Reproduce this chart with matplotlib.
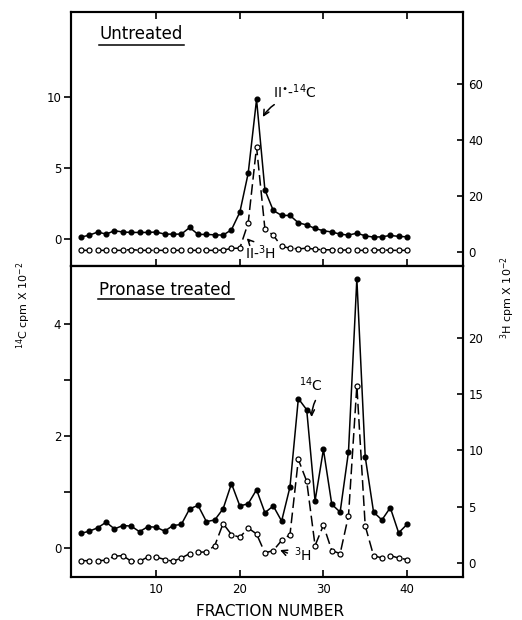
import matplotlib
matplotlib.use("Agg")
import matplotlib.pyplot as plt
import numpy as np

plt.rcParams['font.family'] = ['DejaVu Sans']
plt.rcParams['mathtext.fontset'] = 'dejavusans'

fractions = np.arange(1, 41)

# Untreated: 14C (cpm x 10^-2, left axis) and 3H (cpm x 10^-2, right axis)
untreated_c14 = [0.14, 0.28, 0.50, 0.35, 0.59, 0.50, 0.47, 0.47, 0.47, 0.50,
                 0.35, 0.35, 0.35, 0.82, 0.33, 0.33, 0.30, 0.28, 0.66, 1.90,
                 4.65, 9.86, 3.47, 2.02, 1.67, 1.67, 1.15, 1.00, 0.75, 0.59,
                 0.50, 0.35, 0.28, 0.42, 0.23, 0.14, 0.16, 0.26, 0.19, 0.16]
untreated_h3 = [0.6, 0.6, 0.6, 0.6, 0.6, 0.6, 0.9, 0.6, 0.6, 0.6,
                0.6, 0.6, 0.6, 0.6, 0.6, 0.6, 0.6, 0.7, 1.3, 1.4,
                10.4, 37.6, 8.3, 6.0, 2.0, 1.4, 1.1, 1.4, 1.0, 0.8,
                0.8, 0.6, 0.8, 0.6, 0.6, 0.6, 0.8, 0.6, 0.6, 0.6]

# Pronase treated
pronase_c14 = [0.26, 0.30, 0.36, 0.46, 0.34, 0.40, 0.39, 0.29, 0.38, 0.37,
               0.30, 0.40, 0.42, 0.70, 0.76, 0.47, 0.50, 0.70, 1.15, 0.75,
               0.79, 1.04, 0.63, 0.75, 0.48, 1.09, 2.67, 2.47, 0.84, 1.76,
               0.78, 0.64, 1.72, 4.81, 1.63, 0.64, 0.50, 0.72, 0.27, 0.42]
pronase_h3 = [0.20, 0.20, 0.20, 0.24, 0.60, 0.65, 0.15, 0.15, 0.53, 0.53,
              0.30, 0.15, 0.44, 0.83, 0.95, 0.98, 1.54, 3.50, 2.52, 2.28,
              3.10, 2.58, 0.89, 1.10, 2.00, 2.52, 9.20, 7.26, 1.54, 3.35,
              1.10, 0.83, 4.20, 15.76, 3.30, 0.65, 0.44, 0.65, 0.44, 0.30]

left_ticks_top = [0, 5, 10]
right_ticks_top = [0, 20, 40, 60]
left_ticks_bot = [0, 1, 2, 3, 4]
left_labels_bot = ['0', '', '2', '', '4']
right_ticks_bot = [0, 5, 10, 15, 20]
x_ticks = [10, 20, 30, 40]

W, H = 522, 620
fig = plt.figure(figsize=(W / 100, H / 100), dpi=100)

L, R = 71 / W, 463 / W
ax1 = fig.add_axes([L, 1 - 266 / H, R - L, (266 - 12.5) / H])
ax2 = fig.add_axes([L, 1 - 577 / H, R - L, (577 - 266) / H])
ax1r = ax1.twinx()
ax2r = ax2.twinx()

c14_style = dict(color='black', lw=1.1, marker='o', ms=3.4, mfc='black', mec='black')
h3_style = dict(color='black', lw=1.1, marker='o', ms=3.6, mfc='white', mec='black',
                mew=0.9, dashes=(7, 3))

ax1.plot(fractions, untreated_c14, **c14_style)
ax1r.plot(fractions, untreated_h3, **h3_style)
ax2.plot(fractions, pronase_c14, **c14_style)
ax2r.plot(fractions, pronase_h3, **h3_style)

xlim = (-0.2, 46.7)
for ax in (ax1, ax2, ax1r, ax2r):
    ax.set_xlim(*xlim)
    for s in ax.spines.values():
        s.set_linewidth(1.5)

ax1.set_ylim(-1.9, 16.0)
ax1r.set_ylim(-5.0, 85.7)
ax2.set_ylim(-0.52, 5.04)
ax2r.set_ylim(-1.25, 26.4)

tick_font = 8.5
ax1.set_yticks(left_ticks_top)
ax1r.set_yticks(right_ticks_top)
ax2.set_yticks(left_ticks_bot)
ax2.set_yticklabels(left_labels_bot)
ax2r.set_yticks(right_ticks_bot)

for ax in (ax1, ax2):
    ax.set_xticks(x_ticks)
    ax.tick_params(axis='y', direction='out', length=5, width=1.2, pad=2, labelsize=tick_font)
for ax in (ax1r, ax2r):
    ax.tick_params(axis='y', direction='in', length=4, width=1.2, pad=4, labelsize=tick_font)

ax1.tick_params(axis='x', direction='in', top=True, bottom=True, labelbottom=False,
                length=5, width=1.2)
ax2.tick_params(axis='x', direction='in', top=False, bottom=True, length=5, width=1.2,
                pad=4, labelsize=tick_font)

# panel titles, underlined
ax1.text(3.2, 14.45, 'Untreated', fontsize=12, va='center', ha='left')
ax1.plot([3.1, 13.3], [13.7, 13.7], color='black', lw=1.1, zorder=5)
ax2.text(3.1, 4.61, 'Pronase treated', fontsize=12, va='center', ha='left')
ax2.plot([3.0, 19.3], [4.45, 4.45], color='black', lw=1.1, zorder=5)

# peak labels
arrow = dict(arrowstyle='->', color='black', lw=1.1, connectionstyle='arc3,rad=0.15')
ax1.text(26.6, 10.4, r'II$^{\bullet}$-$^{14}$C', fontsize=10, ha='center', va='center')
ax1.annotate('', xy=(22.6, 8.45), xytext=(24.4, 9.6), arrowprops=arrow)
ax1.text(22.5, -0.98, r'II-$^{3}$H', fontsize=10, ha='center', va='center')
ax1.annotate('', xy=(20.6, 0.2), xytext=(21.4, -0.3),
             arrowprops=dict(arrowstyle='->', color='black', lw=1.1))

ax2.text(28.5, 2.91, r'$^{14}$C', fontsize=10, ha='center', va='center')
ax2.annotate('', xy=(28.6, 2.29), xytext=(29.2, 2.68), arrowprops=arrow)
ax2.text(27.5, -0.13, r'$^{3}$H', fontsize=10, ha='center', va='center')
ax2.annotate('', xy=(24.5, -0.02), xytext=(26.0, -0.11),
             arrowprops=dict(arrowstyle='->', color='black', lw=1.1))

# axis titles
fig.text(270 / W, 1 - 612 / H, 'FRACTION NUMBER', fontsize=11, ha='center', va='center')
fig.text(24 / W, 1 - 305 / H, r'$^{14}$C cpm X 10$^{-2}$', fontsize=8, rotation=90,
         ha='center', va='center')
fig.text(508 / W, 1 - 298 / H, r'$^{3}$H cpm X 10$^{-2}$', fontsize=8, rotation=90,
         ha='center', va='center')

fig.savefig('out.png', dpi=100)
